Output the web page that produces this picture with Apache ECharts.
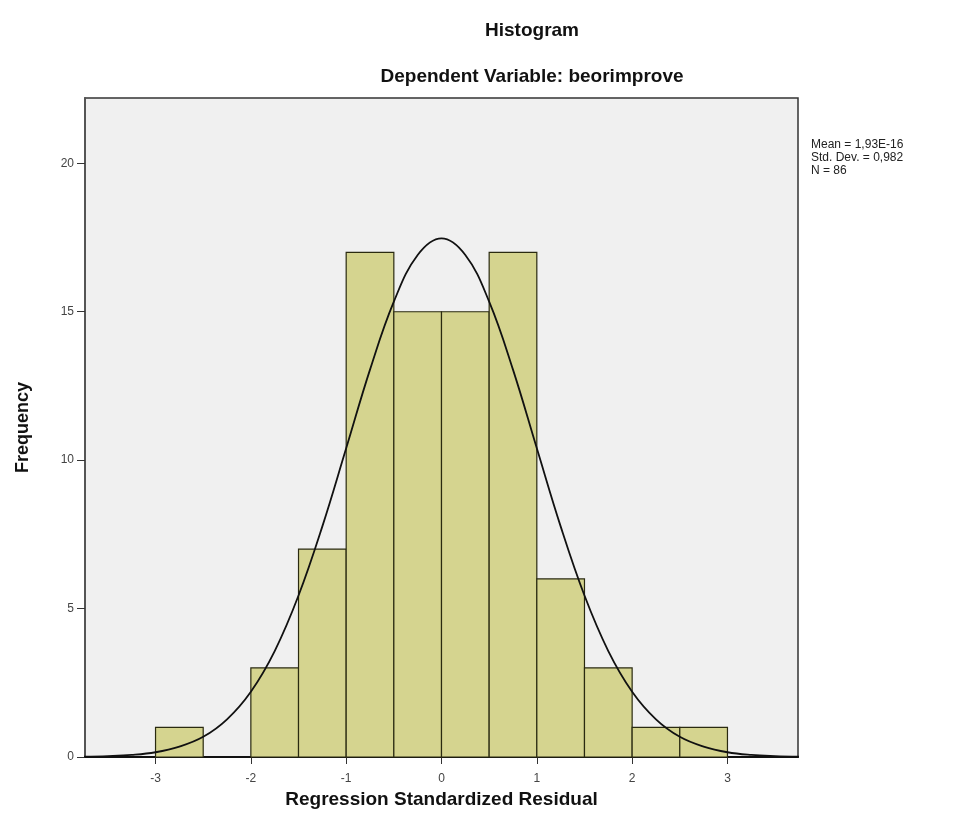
<!DOCTYPE html>
<html><head><meta charset="utf-8">
<script src="https://cdn.jsdelivr.net/npm/echarts@6/dist/echarts.min.js"></script>
<style>html,body{margin:0;padding:0;background:#fff}#c{width:960px;height:834px}</style>
</head><body><div id="c"></div>
<script>
// Histogram bins (lower edge, upper edge) and counts
const binStarts = [-3, -2.5, -2, -1.5, -1, -0.5, 0, 0.5, 1, 1.5, 2, 2.5];
const binEnds   = [-2.5, -2, -1.5, -1, -0.5, 0, 0.5, 1, 1.5, 2, 2.5, 3];
const counts    = [1, 0, 3, 7, 17, 15, 15, 17, 6, 3, 1, 1];
// Normal curve
const curveX = [-3.75,-3.5,-3.25,-3,-2.75,-2.5,-2.25,-2,-1.75,-1.5,-1.25,-1,-0.75,-0.5,-0.25,0,0.25,0.5,0.75,1,1.25,1.5,1.75,2,2.25,2.5,2.75,3,3.25,3.5,3.75];
const curveY = [0.01,0.03,0.07,0.16,0.35,0.68,1.27,2.2,3.57,5.44,7.77,10.4,13.05,15.34,16.91,17.47,16.91,15.34,13.05,10.4,7.77,5.44,3.57,2.2,1.27,0.68,0.35,0.16,0.07,0.03,0.01];
const xTicks = [-3,-2,-1,0,1,2,3];
const yTicks = [0,5,10,15,20];
const statsLines = ['Mean = 1,93E-16','Std. Dev. = 0,982','N = 86'];

const chart = echarts.init(document.getElementById('c'));
const barData = binStarts.map((s,i)=>[s, binEnds[i], counts[i]]);
const lineData = curveX.map((x,i)=>[x, curveY[i]]);
const font = 'Arial, "Liberation Sans", sans-serif';
chart.setOption({
  backgroundColor:'#ffffff',
  animation:false,
  title:[
    {text:'Histogram', left:527, top:16, textAlign:'center', textStyle:{fontFamily:font,fontSize:19,fontWeight:'bold',color:'#111'}},
    {text:'Dependent Variable: beorimprove', left:527, top:62, textAlign:'center', textStyle:{fontFamily:font,fontSize:19,fontWeight:'bold',color:'#111'}}
  ],
  grid:{left:85,right:162,top:98,bottom:77,show:true,backgroundColor:'#f0f0f0',borderColor:'#333',borderWidth:1.5},
  xAxis:{type:'value',min:-3.74,max:3.74,
    name:'Regression Standardized Residual',nameLocation:'middle',nameGap:27,
    nameTextStyle:{fontFamily:font,fontSize:19,fontWeight:'bold',color:'#111'},
    axisLine:{show:true,onZero:false,lineStyle:{color:'#111',width:2}},
    axisTick:{show:true,customValues:xTicks,length:7,lineStyle:{color:'#333'}},
    axisLabel:{customValues:xTicks,fontFamily:font,fontSize:12,color:'#444',margin:16},
    splitLine:{show:false}},
  yAxis:{type:'value',min:0,max:22.2,
    name:'Frequency',nameLocation:'middle',nameGap:53,nameRotate:90,
    nameTextStyle:{fontFamily:font,fontSize:18,fontWeight:'bold',color:'#111'},
    axisLine:{show:true,onZero:false,lineStyle:{color:'#555',width:2}},
    axisTick:{show:true,customValues:yTicks,length:8,lineStyle:{color:'#333'}},
    axisLabel:{customValues:yTicks,fontFamily:font,fontSize:12,color:'#444',margin:11},
    splitLine:{show:false}},
  graphic:[{type:'text',left:811,top:138,style:{text:statsLines.join('\n'),fontFamily:font,fontSize:12,lineHeight:13,fill:'#222'}}],
  series:[
    {type:'custom',data:barData,encode:{x:[0,1],y:2},
     renderItem:function(params,api){
       const p0=api.coord([api.value(0),api.value(2)]);
       const p1=api.coord([api.value(1),0]);
       if(api.value(2)<=0) return null;
       return {type:'rect',shape:{x:p0[0],y:p0[1],width:p1[0]-p0[0],height:p1[1]-p0[1]},
         style:{fill:'#d5d48f',stroke:'#2a2a10',lineWidth:1.2}};
     },z:2},
    {type:'line',data:lineData,smooth:0.4,showSymbol:false,lineStyle:{color:'#111',width:1.8},z:3}
  ]
});
</script></body></html>
